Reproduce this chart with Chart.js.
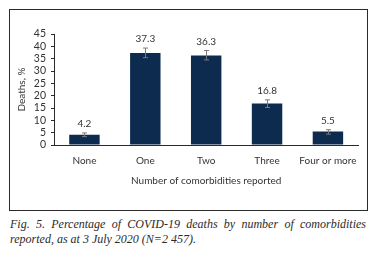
<!DOCTYPE html>
<html>
<head>
<meta charset="utf-8">
<script src="https://cdn.jsdelivr.net/npm/chart.js@4"></script>
<style>
  html, body { margin: 0; padding: 0; background: #ffffff; }
  body { width: 375px; height: 257px; position: relative; overflow: hidden; }
  #box { position: absolute; left: 9px; top: 9px; width: 357px; height: 200px; border: 1px solid #2a2a2a; }
  #box canvas { display: block; }
  #caption { position: absolute; left: 10px; top: 217px; width: 356px; font-family: "Liberation Serif", "DejaVu Serif", serif; font-style: italic; font-size: 12px; line-height: 15px; color: #2a2a2a; text-align: justify; }
</style>
</head>
<body>
<div id="box"><canvas id="c" width="357" height="200"></canvas></div>
<div id="caption">Fig. 5. Percentage of COVID-19 deaths by number of comorbidities reported, as at 3 July 2020 (N=2 457).</div>
<script>
const categories = ["None", "One", "Two", "Three", "Four or more"];
const deathsPct = [4.2, 37.3, 36.3, 16.8, 5.5];
const errLow = [3.4, 35.4, 34.5, 15.2, 4.4];
const errHigh = [4.9, 39.3, 38.3, 18.3, 6.2];
const yTicks = [0, 5, 10, 15, 20, 25, 30, 35, 40, 45];

const FONT = "Lato, 'Noto Sans', sans-serif";

const errorBars = {
  id: 'errorBars',
  afterDatasetsDraw(chart) {
    const ctx = chart.ctx;
    const y = chart.scales.y;
    const meta = chart.getDatasetMeta(0);
    ctx.save();
    ctx.strokeStyle = '#7a7a7a';
    ctx.lineWidth = 1;
    meta.data.forEach((bar, i) => {
      const x = Math.round(bar.x) + 0.5;
      const yl = y.getPixelForValue(errLow[i]);
      const yh = y.getPixelForValue(errHigh[i]);
      ctx.beginPath();
      ctx.moveTo(x, yl); ctx.lineTo(x, yh);
      ctx.moveTo(x - 2.5, yl); ctx.lineTo(x + 2.5, yl);
      ctx.moveTo(x - 2.5, yh); ctx.lineTo(x + 2.5, yh);
      ctx.stroke();
      ctx.fillStyle = '#333333';
      ctx.font = "10px " + FONT;
      ctx.textAlign = 'center';
      ctx.textBaseline = 'bottom';
      ctx.fillText(deathsPct[i].toFixed(1), bar.x, yh - 4);
    });
    ctx.restore();
  }
};

new Chart(document.getElementById('c'), {
  type: 'bar',
  data: {
    labels: categories,
    datasets: [{
      data: deathsPct,
      backgroundColor: '#0d2b4f',
      borderWidth: 0,
      barPercentage: 0.5,
      categoryPercentage: 1.0
    }]
  },
  options: {
    responsive: false,
    animation: false,
    devicePixelRatio: 1,
    layout: { padding: { top: 24, right: 5, left: 0, bottom: 0 } },
    plugins: { legend: { display: false }, tooltip: { enabled: false } },
    scales: {
      x: {
        grid: { display: false, drawTicks: false },
        border: { display: true, color: '#2a2a2a', width: 1 },
        ticks: { color: '#333333', font: { family: FONT, size: 10 }, padding: 10, maxRotation: 0, autoSkip: false },
        title: { display: true, text: 'Number of comorbidities reported', color: '#333333', font: { family: FONT, size: 10 }, padding: { top: 0, bottom: 23 } },
        afterFit(scale) { scale.height = 65; }
      },
      y: {
        min: 0, max: 45,
        afterBuildTicks(scale) { scale.ticks = yTicks.map(v => ({ value: v })); },
        grid: { drawOnChartArea: false, drawTicks: true, tickLength: 3, color: '#2a2a2a' },
        border: { display: true, color: '#2a2a2a', width: 1 },
        ticks: { color: '#333333', font: { family: FONT, size: 10.5 }, padding: 5, autoSkip: false },
        title: { display: true, text: 'Deaths, %', color: '#333333', font: { family: FONT, size: 10 }, padding: { top: 6, bottom: 0 } },
        afterFit(scale) { scale.width = 44; }
      }
    }
  },
  plugins: [errorBars]
});
</script>
</body>
</html>
